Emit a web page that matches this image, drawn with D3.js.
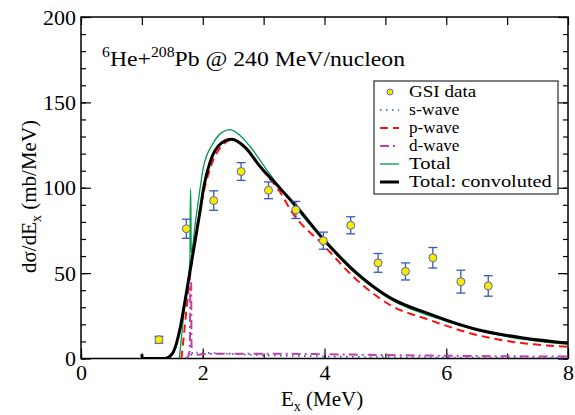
<!DOCTYPE html>
<html>
<head>
<meta charset="utf-8">
<script src="https://cdn.jsdelivr.net/npm/d3@7"></script>
<style>
  body { margin: 0; background: #fff; }
  svg { display: block; }
  svg text { font-family: "Times New Roman", Times, "Liberation Serif", "DejaVu Serif", serif; fill: #000; }
</style>
</head>
<body>
<svg id="chart" width="575" height="415"></svg>
<script>
// GSI data: Ex, dsigma/dEx, error
const dataX = [1.28, 1.73, 2.18, 2.63, 3.08, 3.53, 3.98, 4.43, 4.88, 5.33, 5.78, 6.24, 6.69]
const dataY = [11, 76, 92.5, 109.5, 98.5, 87, 69, 78, 56, 51, 59, 45, 42.5]
const dataErr = [2, 5.6, 5.7, 5.2, 4.9, 5, 5, 5, 5.5, 5, 6, 6.7, 6]

// curves [Ex, value]
const sWave = [[1.72,0],[1.8,2],[1.9,3.5],[2.0,3.4],[2.5,2.6],[3,1.9],[4,1.2],[5,0.8],[6,0.6],[7,0.45],[8,0.35]]
const pWave = [[1.65,0],[1.68,10],[1.79,48],[1.95,86],[2.17,116],[2.3,124],[2.5,128.3],[2.72,123],[2.99,110],[3.27,97.5],[3.45,86.5],[3.98,66.5],[4.53,46],[5.08,31.3],[5.73,22.5],[6.5,13.8],[7.27,8.9],[8,6.9]]
const dWave = [[1.72,0],[1.77,2],[1.79,8],[1.795,44],[1.81,44],[1.815,8],[1.83,3],[1.9,2.2],[2.0,2.6],[2.5,2.8],[3,2.8],[4,2.5],[5,2.0],[6,1.6],[7,1.3],[8,1.1]]
const total = [[1.615,0],[1.70,30],[1.79,58],[1.797,99],[1.803,99],[1.81,62],[1.88,80],[1.93,93],[2.01,112],[2.17,126],[2.3,132],[2.447,134],[2.6,131],[2.78,124],[3.05,110.5],[3.5,89.5],[4,68.5],[4.5,50],[5,36.5],[6,21.8],[7,12.8],[8,8.3]]
const convoluted = [[1.0,2.5],[1.005,0],[1.38,0],[1.45,1],[1.52,4],[1.63,18],[1.71,34],[1.79,51],[1.87,68],[1.95,85],[2.02,101],[2.12,115],[2.3,126],[2.475,128.4],[2.7,123.5],[2.94,112.5],[3.21,102],[3.54,89],[3.98,70],[4.53,50],[5.08,35.5],[5.73,26],[6.5,17],[7.27,12],[8.0,9]]

const xTicks = [0, 2, 4, 6, 8]
const yTicks = [0, 50, 100, 150, 200]
const legendLabels = ["GSI data", "s-wave", "p-wave", "d-wave", "Total", "Total: convoluted"]

const FONT = '"Times New Roman", Times, "Liberation Serif", "DejaVu Serif", serif'
const svg = d3.select("#chart")
const x = d3.scaleLinear().domain([0, 8]).range([81, 568])
const y = d3.scaleLinear().domain([0, 200]).range([358.5, 17])

const xMinor = d3.range(0, 8.01, 1)
const yMinor = d3.range(0, 200.1, 10)

// ticks (inward)
function styleAxis(g) {
  g.attr("font-family", null)
  g.select(".domain").remove()
  g.selectAll(".tick line").attr("stroke", "#000").attr("stroke-width", 1.2)
  g.selectAll(".tick text").style("font-size", "22px").style("font-family", FONT)
}
svg.append("g").attr("transform", "translate(0,358.5)")
  .call(d3.axisBottom(x).tickValues(xMinor).tickSize(-5).tickFormat("")).call(styleAxis)
svg.append("g").attr("transform", "translate(0,358.5)")
  .call(d3.axisBottom(x).tickValues(xTicks).tickSize(-10).tickPadding(6).tickFormat(d3.format("d"))).call(styleAxis)
svg.append("g").attr("transform", "translate(0,17)")
  .call(d3.axisTop(x).tickValues(xMinor).tickSize(-8).tickFormat("")).call(styleAxis)
svg.append("g").attr("transform", "translate(81,0)")
  .call(d3.axisLeft(y).tickValues(yMinor).tickSize(-5).tickFormat("")).call(styleAxis)
svg.append("g").attr("transform", "translate(81,0)")
  .call(d3.axisLeft(y).tickValues(yTicks).tickSize(-10).tickPadding(5).tickFormat(d3.format("d"))).call(styleAxis)
svg.append("g").attr("transform", "translate(568,0)")
  .call(d3.axisRight(y).tickValues(yMinor).tickSize(-5).tickFormat("")).call(styleAxis)
svg.append("g").attr("transform", "translate(568,0)")
  .call(d3.axisRight(y).tickValues(yTicks).tickSize(-10).tickFormat("")).call(styleAxis)

svg.append("rect").attr("x", 81).attr("y", 17).attr("width", 487).attr("height", 341.5)
  .attr("fill", "none").attr("stroke", "#000").attr("stroke-width", 1.5)

svg.append("clipPath").attr("id", "clip").append("rect")
  .attr("x", 81).attr("y", 17).attr("width", 487).attr("height", 341.5)

const line = d3.line().x(d => x(d[0])).y(d => y(d[1])).curve(d3.curveMonotoneX)
const plot = svg.append("g").attr("clip-path", "url(#clip)")

const series = [
  {data: sWave, color: "#2f4fc0", width: 1.6, dash: "1.5,4.5"},
  {data: dWave, color: "#c040a8", width: 2, dash: "9,4,2,4"},
  {data: pWave, color: "#ff1010", width: 2, dash: "8,5"},
  {data: total, color: "#009a48", width: 1.3, dash: null},
  {data: convoluted, color: "#000", width: 3, dash: null}
]
series.forEach(s => {
  plot.append("path").attr("d", line(s.data)).attr("fill", "none")
    .attr("stroke", s.color).attr("stroke-width", s.width)
    .attr("stroke-dasharray", s.dash)
})

// GSI points with error bars
const pts = dataX.map((d, i) => ({x: d, y: dataY[i], e: dataErr[i]}))
const errColor = "#3a58b8"
const pg = svg.append("g").selectAll("g").data(pts).enter().append("g")
pg.append("line").attr("x1", d => x(d.x)).attr("x2", d => x(d.x))
  .attr("y1", d => y(d.y - d.e)).attr("y2", d => y(d.y + d.e))
  .attr("stroke", errColor).attr("stroke-width", 1.3)
pg.append("line").attr("x1", d => x(d.x) - 4.5).attr("x2", d => x(d.x) + 4.5)
  .attr("y1", d => y(d.y - d.e)).attr("y2", d => y(d.y - d.e))
  .attr("stroke", errColor).attr("stroke-width", 1.3)
pg.append("line").attr("x1", d => x(d.x) - 4.5).attr("x2", d => x(d.x) + 4.5)
  .attr("y1", d => y(d.y + d.e)).attr("y2", d => y(d.y + d.e))
  .attr("stroke", errColor).attr("stroke-width", 1.3)
pg.append("circle").attr("cx", d => x(d.x)).attr("cy", d => y(d.y)).attr("r", 4)
  .attr("fill", "#f5ea00").attr("stroke", "#5a6aa8").attr("stroke-width", 1)

// title
const title = svg.append("text").attr("x", 102).attr("y", 66).style("font-size", "21px")
  .attr("textLength", 303).attr("lengthAdjust", "spacingAndGlyphs")
title.append("tspan").attr("dy", -9).style("font-size", "14px").text("6")
title.append("tspan").attr("dy", 9).text("He+")
title.append("tspan").attr("dy", -9).style("font-size", "14px").text("208")
title.append("tspan").attr("dy", 9).text("Pb @ 240 MeV/nucleon")

// axis titles
const xt = svg.append("text").attr("x", 281).attr("y", 406).style("font-size", "21px")
xt.append("tspan").text("E")
xt.append("tspan").attr("dy", 5).style("font-size", "14px").text("x")
xt.append("tspan").attr("dy", -5).text(" (MeV)")

const yt = svg.append("text").attr("transform", "translate(36,273) rotate(-90)").style("font-size", "21px")
yt.append("tspan").text("dσ/dE")
yt.append("tspan").attr("dy", 5).style("font-size", "14px").text("x")
yt.append("tspan").attr("dy", -5).text(" (mb/MeV)")

// legend
const lg = svg.append("g")
lg.append("rect").attr("x", 374).attr("y", 81).attr("width", 184).attr("height", 113)
  .attr("fill", "#fff").attr("stroke", "#000").attr("stroke-width", 1)
const rowY = d3.scalePoint().domain(legendLabels).range([92, 182])
const legendStyle = [null, series[0], series[2], series[1], series[3], series[4]]
legendLabels.forEach((label, i) => {
  const ly = rowY(label)
  const s = legendStyle[i]
  if (!s) {
    lg.append("circle").attr("cx", 390).attr("cy", ly).attr("r", 3)
      .attr("fill", "#f5ea00").attr("stroke", "#5a6aa8").attr("stroke-width", 1)
  } else {
    lg.append("line").attr("x1", 380).attr("x2", 399).attr("y1", ly).attr("y2", ly)
      .attr("stroke", s.color).attr("stroke-width", s.width).attr("stroke-dasharray", s.dash)
  }
  lg.append("text").attr("x", 409).attr("y", ly + 5).style("font-size", "16px")
    .attr("textLength", label.length * 8.4).attr("lengthAdjust", "spacingAndGlyphs").text(label)
})
</script>
</body>
</html>
